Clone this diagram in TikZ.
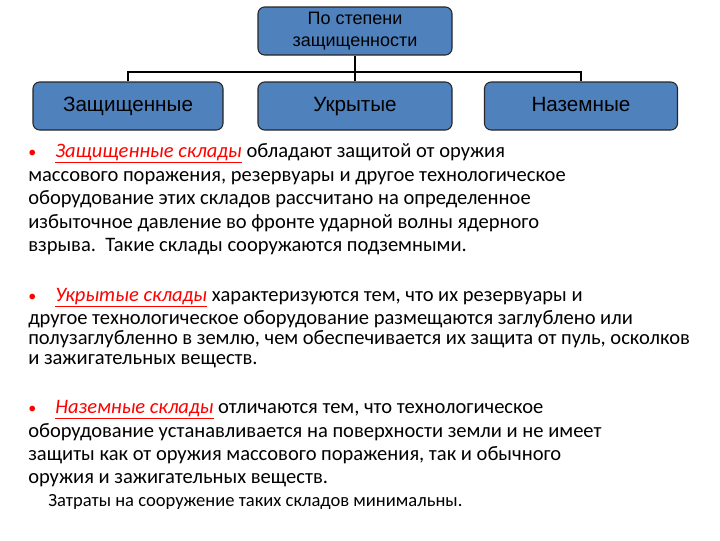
\documentclass[tikz,border=0pt]{standalone}
\usepackage{fontspec}
\setmainfont{Carlito}
\newfontfamily\boxfont{Liberation Sans}
\begin{document}
\begin{tikzpicture}[x=0.75pt,y=-0.75pt,
  box/.style={draw=black!85,line width=0.8pt,fill=cbox,rounded corners=5pt,minimum height=36pt,align=center,font=\boxfont\fontsize{15.5pt}{17pt}\selectfont,inner sep=1pt,text height=11pt,text depth=3pt},
  ln/.style={anchor=base west,inner sep=0pt,font=\fontsize{15.4pt}{17pt}\selectfont},
  bul/.style={anchor=base west,inner sep=0pt,text=red,font=\fontsize{12pt}{14pt}\selectfont},
  conn/.style={line width=1.2pt}]
\definecolor{cbox}{RGB}{79,129,189}
\newcommand{\hl}[1]{\textcolor{red}{\underline{\textit{#1}}}}
\useasboundingbox (0,0) rectangle (720,540);
\node[box,minimum width=145.5pt,font=\boxfont\fontsize{13.5pt}{16.5pt}\selectfont,text height=,text depth=] (top) at (355,31) {По степени\\защищенности};
\node[box,minimum width=142.5pt] (a) at (128,106) {Защищенные};
\node[box,minimum width=145.5pt] (b) at (355,106) {Укрытые};
\node[box,minimum width=144.75pt] (c) at (581,106) {Наземные};
\coordinate (j) at (355,72);
\draw[conn] (top.south) -- (j);
\draw[conn] (a.north) -- (a.north |- j) -- (c.north |- j) -- (c.north);
\draw[conn] (j) -- (b.north);
% para 1
\node[bul] (p1b) at (28,157) {•};
\node[ln] (p1a) at (55,157) {\hl{Защищенные склады} обладают защитой от оружия};
\node[ln] (p1c) at (28,181) {массового поражения, резервуары и другое технологическое};
\node[ln] (p1d) at (28,204) {оборудование этих складов рассчитано на определенное};
\node[ln] (p1e) at (28,228) {избыточное давление во фронте ударной волны ядерного};
\node[ln] (p1f) at (28,251) {взрыва.\ \ Такие склады сооружаются подземными.};
% para 2
\node[bul] (p2b) at (28,301) {•};
\node[ln] (p2a) at (55,301) {\hl{Укрытые склады} характеризуются тем, что их резервуары и};
\node[ln] (p2c) at (28,324) {другое технологическое оборудование размещаются заглублено или};
\node[ln] (p2d) at (28,344) {полузаглубленно в землю, чем обеспечивается их защита от пуль, осколков};
\node[ln] (p2e) at (28,364) {и зажигательных веществ.};
% para 3
\node[bul] (p3b) at (28,413) {•};
\node[ln] (p3a) at (55,413) {\hl{Наземные склады} отличаются тем, что технологическое};
\node[ln] (p3c) at (28,437) {оборудование устанавливается на поверхности земли и не имеет};
\node[ln] (p3d) at (28,460) {защиты как от оружия массового поражения, так и обычного};
\node[ln] (p3e) at (28,483) {оружия и зажигательных веществ.};
\node[ln,font=\fontsize{13.9pt}{16pt}\selectfont] (p3f) at (48,506) {Затраты на сооружение таких складов минимальны.};
\end{tikzpicture}
\end{document}
